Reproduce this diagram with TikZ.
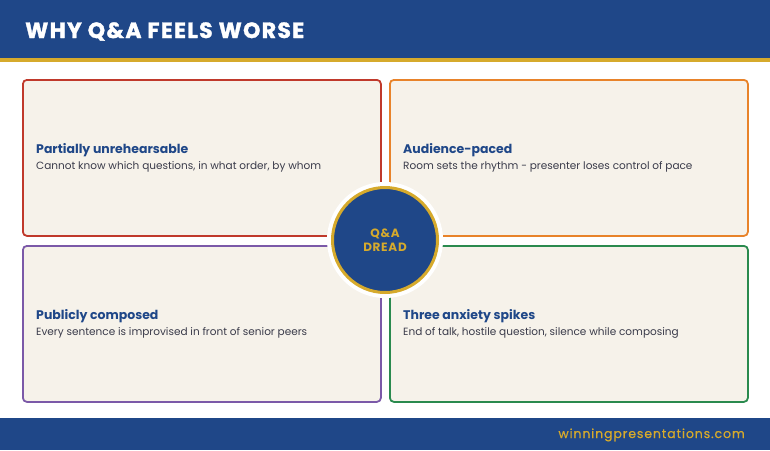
\documentclass[tikz,border=0pt]{standalone}
\usepackage{fontspec}
\setmainfont{Poppins}
\definecolor{navy}{HTML}{1F4788}
\definecolor{gold}{HTML}{D6AA2C}
\definecolor{paper}{HTML}{F6F2EA}
\definecolor{ink}{HTML}{3A3B4A}
\definecolor{cred}{HTML}{C0392B}
\definecolor{corange}{HTML}{E8832A}
\definecolor{cpurple}{HTML}{7B59A8}
\definecolor{cgreen}{HTML}{2A8A4E}
\tikzset{
	card/.style={draw=#1,line width=1.8pt,fill=paper,rounded corners=4pt,minimum width=358pt,minimum height=156pt,anchor=north west,inner sep=0pt},
	cardhead/.style={anchor=base west,inner sep=0pt,font=\fontsize{12.5}{14}\selectfont\bfseries,text=navy},
	cardbody/.style={anchor=base west,inner sep=0pt,font=\fontsize{10.5}{12}\selectfont,text=ink}
}
\begin{document}
\begin{tikzpicture}[x=1pt,y=-1pt]
		\useasboundingbox (0,0) rectangle (770,450);
		%Header
			\fill[navy] (0,0) rectangle (770,58);
			\fill[gold] (0,58) rectangle (770,62);
			\node[anchor=base west,inner sep=0pt,text=white,font=\fontsize{22}{24}\selectfont\bfseries\addfontfeatures{LetterSpace=6,FakeBold=1.5}] (title) at (25,38) {WHY Q\&A FEELS WORSE};
		%Footer
			\fill[navy] (0,418) rectangle (770,450);
			\node[anchor=base east,inner sep=0pt,text=gold,font=\fontsize{12.5}{14}\selectfont\addfontfeatures{LetterSpace=7,FakeBold=0.6}] (site) at (745,438) {winningpresentations.com};
		%Cards
			\node[card=cred] (tl) at (22,79) {};
			\node[card=corange] (tr) at (389,79) {};
			\node[card=cpurple] (bl) at (22,245) {};
			\node[card=cgreen] (br) at (389,245) {};
		%Card texts
			\node[cardhead] (tlhead) at (36,153) {Partially unrehearsable};
			\node[cardbody] (tlbody) at (36,169) {Cannot know which questions, in what order, by whom};
			\node[cardhead] (trhead) at (403,153) {Audience-paced};
			\node[cardbody] (trbody) at (403,169) {Room sets the rhythm - presenter loses control of pace};
			\node[cardhead] (blhead) at (36,319) {Publicly composed};
			\node[cardbody] (blbody) at (36,335) {Every sentence is improvised in front of senior peers};
			\node[cardhead] (brhead) at (403,319) {Three anxiety spikes};
			\node[cardbody] (brbody) at (403,335) {End of talk, hostile question, silence while composing};
		%Centre
			\node[circle,fill=white,minimum size=116pt,inner sep=0pt] (halo) at (385,240) {};
			\node[circle,fill=navy,draw=gold,line width=3pt,minimum size=105pt,inner sep=0pt,align=center,text=gold,font=\fontsize{12}{14}\selectfont\bfseries\addfontfeatures{LetterSpace=6}] (dread) at (halo) {Q\&A\\DREAD};
	\end{tikzpicture}
\end{document}
